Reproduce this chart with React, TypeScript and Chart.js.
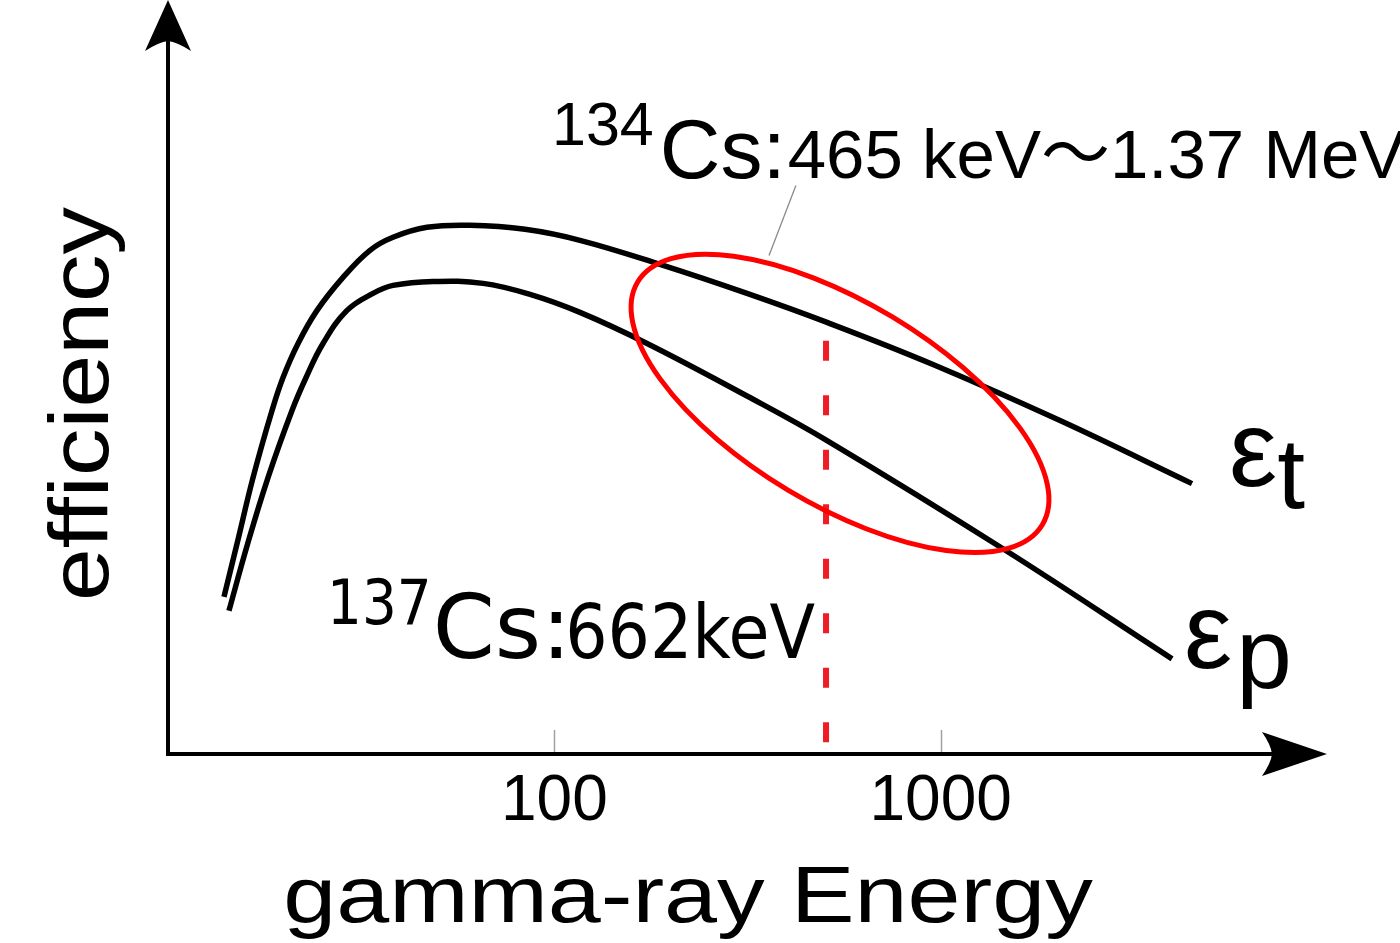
import React, { useEffect, useRef } from "react";
import { Chart, registerables } from "chart.js";

Chart.register(...registerables);

// ---- data (energy in keV, efficiency in arbitrary units 0-100) ----
const totalEnergyKeV = [13.96, 15.09, 16.6, 18.59, 19.85, 21.71, 24.31, 28.38, 33.33, 38.23, 46.82, 60.49, 83.97, 116.5, 187.7, 315.3, 508.0, 955.4, 2037, 4473];
const totalEfficiency = [20.85, 27.89, 36.65, 45.55, 49.93, 54.45, 58.83, 63.21, 66.8, 68.53, 69.85, 70.12, 69.59, 68.13, 64.94, 61.09, 57.24, 51.66, 44.22, 35.86];

const peakEnergyKeV = [14.38, 16.02, 18.15, 20.94, 22.77, 25.19, 29.07, 33.93, 38.23, 48.53, 65.39, 86.5, 116.5, 173.8, 315.3, 508.0, 1450, 3971];
const peakEfficiency = [18.99, 27.62, 36.65, 45.55, 49.93, 54.45, 58.83, 61.09, 62.15, 62.68, 62.42, 60.96, 58.57, 54.45, 47.48, 41.57, 27.22, 12.62];

const energyRange = [10, 10000];
const efficiencyRange = [0, 100];
const xTickValues = [100, 1000];
const xTickLabels = ["100", "1000"];

// vertical dashed marker (137Cs)
const cs137MarkerEnergy = [505, 505];
const cs137MarkerEfficiency = [54.8, 1.46];

// thin leader line from the 134Cs label to the ellipse
const leaderEnergy = [422, 359.5];
const leaderEfficiency = [75.4, 66.1];

// ellipse around the 134Cs range: [centre, end of major semi-axis, end of minor semi-axis]
const ellipseEnergy = [548.8, 1833, 748.5];
const ellipseEfficiency = [46.5, 30.4, 58.0];

// text anchors: [134Cs label, 137Cs label, eps_t, eps_p]
const labelEnergy = [98.6, 25.8, 5577, 4265];
const labelEfficiency = [76.4, 12.7, 35.5, 11.4];

const SANS = '"Liberation Sans", Arial, sans-serif';
const SANS_CJK = '"Liberation Sans", "Noto Sans CJK JP", sans-serif';
const VERD = '"DejaVu Sans", sans-serif';

type Piece = { text: string; font: string; sx?: number; dy?: number; gap?: number };

function drawPieces(ctx: CanvasRenderingContext2D, x: number, y: number, pieces: Piece[]) {
  let cx = x;
  ctx.textAlign = "left";
  ctx.textBaseline = "alphabetic";
  for (const p of pieces) {
    ctx.font = p.font;
    const sx = p.sx ?? 1;
    cx += p.gap ?? 0;
    const w = ctx.measureText(p.text).width * sx;
    ctx.save();
    ctx.translate(cx, y + (p.dy ?? 0));
    ctx.scale(sx, 1);
    ctx.fillText(p.text, 0, 0);
    ctx.restore();
    cx += w;
  }
}

const overlay = {
  id: "overlay",
  afterDatasetsDraw(chart: any) {
    const ctx: CanvasRenderingContext2D = chart.ctx;
    const xs = chart.scales.x;
    const ys = chart.scales.y;
    const px = (e: number) => xs.getPixelForValue(e);
    const py = (v: number) => ys.getPixelForValue(v);

    // ellipse
    const cx = px(ellipseEnergy[0]);
    const cy = py(ellipseEfficiency[0]);
    const mx = px(ellipseEnergy[1]);
    const my = py(ellipseEfficiency[1]);
    const nx = px(ellipseEnergy[2]);
    const ny = py(ellipseEfficiency[2]);
    const a = Math.hypot(mx - cx, my - cy);
    const b = Math.hypot(nx - cx, ny - cy);
    const ang = Math.atan2(my - cy, mx - cx);
    ctx.save();
    ctx.beginPath();
    ctx.ellipse(cx, cy, a, b, ang, 0, Math.PI * 2);
    ctx.strokeStyle = "#ff0000";
    ctx.lineWidth = 5;
    ctx.stroke();
    ctx.restore();
  },
  afterDraw(chart: any) {
    const ctx: CanvasRenderingContext2D = chart.ctx;
    const area = chart.chartArea;
    const xs = chart.scales.x;
    const ys = chart.scales.y;
    const px = (e: number) => xs.getPixelForValue(e);
    const py = (v: number) => ys.getPixelForValue(v);
    const L = area.left;
    const R = area.right;
    const T = area.top;
    const B = area.bottom;

    ctx.save();
    ctx.fillStyle = "#000";
    ctx.strokeStyle = "#000";
    ctx.lineWidth = 4;
    ctx.lineCap = "butt";

    // y axis shaft + arrow
    ctx.beginPath();
    ctx.moveTo(L, B + 2);
    ctx.lineTo(L, T + 40);
    ctx.stroke();
    ctx.beginPath();
    ctx.moveTo(L, T);
    ctx.lineTo(L - 23, T + 51);
    ctx.quadraticCurveTo(L - 9, T + 42, L, T + 41);
    ctx.quadraticCurveTo(L + 9, T + 42, L + 23, T + 51);
    ctx.closePath();
    ctx.fill();

    // x axis shaft + arrow
    ctx.beginPath();
    ctx.moveTo(L - 2, B);
    ctx.lineTo(R - 54, B);
    ctx.stroke();
    ctx.beginPath();
    ctx.moveTo(R, B);
    ctx.lineTo(R - 65, B - 22);
    ctx.quadraticCurveTo(R - 56, B - 9, R - 55, B);
    ctx.quadraticCurveTo(R - 56, B + 9, R - 65, B + 22);
    ctx.closePath();
    ctx.fill();

    // inward tick marks
    ctx.strokeStyle = "#a0a0a0";
    ctx.lineWidth = 1.5;
    for (const v of xTickValues) {
      const x = Math.round(px(v)) + 0.5;
      ctx.beginPath();
      ctx.moveTo(x, B - 2);
      ctx.lineTo(x, B - 24);
      ctx.stroke();
    }

    // axis titles
    ctx.fillStyle = "#000";
    ctx.textAlign = "center";
    ctx.textBaseline = "alphabetic";
    ctx.font = `80px ${SANS}`;
    ctx.save();
    ctx.translate(L + 520, B + 168);
    ctx.scale(1.19, 1);
    ctx.fillText("gamma-ray Energy", 0, 0);
    ctx.restore();

    ctx.font = `84px ${SANS}`;
    ctx.save();
    ctx.translate(L - 60, B - 350);
    ctx.rotate(-Math.PI / 2);
    ctx.scale(1.13, 1);
    ctx.fillText("efficiency", 0, 0);
    ctx.restore();

    // annotations
    drawPieces(ctx, px(labelEnergy[0]), py(labelEfficiency[0]), [
      { text: "134", font: `61px ${SANS}`, dy: -33 },
      { text: "Cs:", font: `84px ${SANS}`, gap: 6 },
      { text: "465 keV～1.37 MeV", font: `69px ${SANS_CJK}`, gap: 2 },
    ]);
    drawPieces(ctx, px(labelEnergy[1]), py(labelEfficiency[1]), [
      { text: "137", font: `63px ${VERD}`, sx: 0.87, dy: -34 },
      { text: "Cs:", font: `89px ${VERD}`, gap: 1 },
      { text: "662keV", font: `74px ${VERD}`, sx: 0.9, gap: -6 },
    ]);
    drawPieces(ctx, px(labelEnergy[2]), py(labelEfficiency[2]), [
      { text: "ε", font: `108px ${SANS}` },
      { text: "t", font: `100px ${SANS}`, dy: 22 },
    ]);
    drawPieces(ctx, px(labelEnergy[3]), py(labelEfficiency[3]), [
      { text: "ε", font: `108px ${SANS}` },
      { text: "p", font: `100px ${SANS}`, dy: 20, gap: 4 },
    ]);
    ctx.restore();
  },
};

export default function App() {
  const ref = useRef<HTMLCanvasElement | null>(null);

  useEffect(() => {
    const canvas = ref.current;
    if (!canvas) return;
    const pts = (xsArr: number[], ysArr: number[]) => xsArr.map((x, i) => ({ x, y: ysArr[i] }));
    const chart = new Chart(canvas, {
      type: "line",
      data: {
        datasets: [
          {
            label: "137Cs 662 keV",
            data: pts(cs137MarkerEnergy, cs137MarkerEfficiency),
            borderColor: "#ee1c24",
            borderWidth: 6,
            borderDash: [20, 34.5],
            pointRadius: 0,
            fill: false,
          },
          {
            label: "leader",
            data: pts(leaderEnergy, leaderEfficiency),
            borderColor: "#8a8a8a",
            borderWidth: 1.3,
            pointRadius: 0,
            fill: false,
          },
          {
            label: "εt",
            data: pts(totalEnergyKeV, totalEfficiency),
            borderColor: "#000",
            borderWidth: 5.5,
            pointRadius: 0,
            fill: false,
            tension: 0.4,
          },
          {
            label: "εp",
            data: pts(peakEnergyKeV, peakEfficiency),
            borderColor: "#000",
            borderWidth: 5.5,
            pointRadius: 0,
            fill: false,
            tension: 0.4,
          },
        ],
      },
      options: {
        responsive: false,
        animation: false,
        devicePixelRatio: 1,
        events: [],
        layout: { padding: { left: 168, right: 73, top: 0, bottom: 92.2 } },
        plugins: { legend: { display: false }, tooltip: { enabled: false } },
        scales: {
          x: {
            type: "logarithmic",
            min: energyRange[0],
            max: energyRange[1],
            position: "bottom",
            grid: { display: false, drawTicks: false },
            border: { display: false },
            afterBuildTicks: (s: any) => {
              s.ticks = xTickValues.map((v) => ({ value: v }));
            },
            ticks: {
              autoSkip: false,
              maxRotation: 0,
              minRotation: 0,
              padding: 10,
              color: "#000",
              font: { family: SANS, size: 64 },
              callback: (_v: any, i: number) => xTickLabels[i] ?? "",
            },
          },
          y: {
            type: "linear",
            min: efficiencyRange[0],
            max: efficiencyRange[1],
            display: false,
          },
        },
      } as any,
      plugins: [overlay],
    });
    return () => chart.destroy();
  }, []);

  return (
    <div style={{ position: "absolute", left: 0, top: 0, width: 1400, height: 943, background: "#fff" }}>
      <canvas ref={ref} width={1400} height={943} style={{ display: "block", width: 1400, height: 943 }} />
    </div>
  );
}
